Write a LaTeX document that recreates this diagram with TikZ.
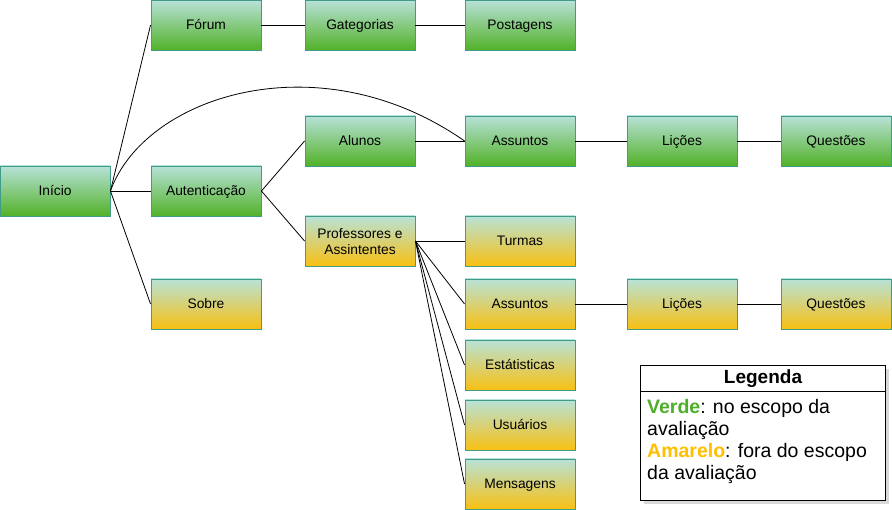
\documentclass[tikz,border=0pt]{standalone}
\usepackage{fontspec}
\setmainfont{Liberation Sans}
\definecolor{topc}{HTML}{B8E2D8}
\definecolor{grn}{HTML}{52B128}
\definecolor{ylw}{HTML}{F8C012}
\definecolor{brd}{HTML}{3F9C88}
\definecolor{verde}{HTML}{4DAF27}
\definecolor{amarelo}{HTML}{FFBF00}
\tikzset{
  box/.style={draw=brd, line width=0.9pt, minimum width=110pt, minimum height=50pt, inner sep=0pt, align=center, text height=10pt, text depth=0pt, font=\fontsize{13.8}{16}\selectfont},
  gbox/.style={box, top color=topc, bottom color=grn},
  ybox/.style={box, top color=topc, bottom color=ylw},
  conn/.style={draw=black, line width=0.8pt}
}
\begin{document}
\begin{tikzpicture}[x=1pt,y=-1pt]
\useasboundingbox (0,0) rectangle (892,510);
% nodes
\node[gbox] (inicio) at (55,191) {Início};
\node[gbox] (forum) at (206,25) {Fórum};
\node[gbox] (gat) at (360,25) {Gategorias};
\node[gbox] (post) at (520,25) {Postagens};
\node[gbox] (aut) at (206,191) {Autenticação};
\node[gbox] (alunos) at (360,141) {Alunos};
\node[gbox] (assg) at (520,141) {Assuntos};
\node[gbox] (licg) at (682,141) {Lições};
\node[gbox] (questg) at (836,141) {Questões};
\node[ybox, text height=28pt] (prof) at (360,241) {Professores e\\Assintentes};
\node[ybox] (sobre) at (206,304) {Sobre};
\node[ybox] (turmas) at (520,241) {Turmas};
\node[ybox] (assy) at (520,304) {Assuntos};
\node[ybox] (licy) at (682,304) {Lições};
\node[ybox] (questy) at (836,304) {Questões};
\node[ybox] (est) at (520,365) {Estátisticas};
\node[ybox] (usu) at (520,425) {Usuários};
\node[ybox] (msg) at (520,484) {Mensagens};
% connectors
\draw[conn] (inicio.east) -- (forum.west);
\draw[conn] (inicio.east) -- (aut.west);
\draw[conn] (inicio.east) -- (sobre.west);
\draw[conn] (inicio.east) .. controls (145,95) and (320,40) .. (assg.west);
\draw[conn] (forum) -- (gat);
\draw[conn] (gat) -- (post);
\draw[conn] (aut.east) -- (alunos.west);
\draw[conn] (aut.east) -- (prof.west);
\draw[conn] (alunos) -- (assg);
\draw[conn] (assg) -- (licg);
\draw[conn] (licg) -- (questg);
\draw[conn] (prof.east) -- (turmas.west);
\draw[conn] (prof.east) -- (assy.west);
\draw[conn] (prof.east) -- (est.west);
\draw[conn] (prof.east) -- (usu.west);
\draw[conn] (prof.east) -- (msg.west);
\draw[conn] (assy) -- (licy);
\draw[conn] (licy) -- (questy);
% legend
\fill[black!25, opacity=0.6] (644,369) rectangle (889,504);
\node[draw=black, fill=white, line width=0.9pt, minimum width=245pt, minimum height=135pt, inner sep=0pt, anchor=north west] (leg) at (640,365) {};
\draw[line width=0.9pt] (640,391) -- (885,391);
\node[font=\fontsize{19}{22}\selectfont\bfseries] (legt) at (763,379) {Legenda};
\node[anchor=north west, align=left, inner sep=0pt, font=\fontsize{19.5}{22.2}\selectfont] (legtxt) at (647,399)
 {\textcolor{verde}{\bfseries Verde}: no escopo da\\avaliação\\\textcolor{amarelo}{\bfseries Amarelo}: fora do escopo\\da avaliação};
\end{tikzpicture}
\end{document}
